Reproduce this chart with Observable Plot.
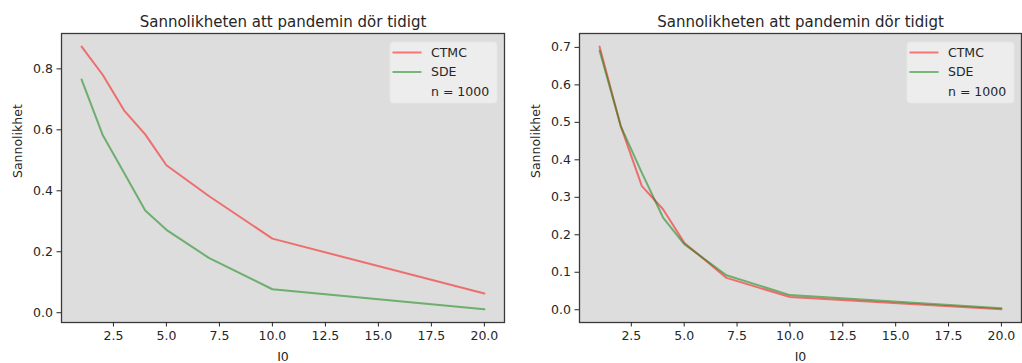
<!DOCTYPE html>
<html>
<head>
<meta charset="utf-8">
<script src="https://cdn.jsdelivr.net/npm/d3@7"></script>
<script src="https://cdn.jsdelivr.net/npm/@observablehq/plot@0.6"></script>
<style>
  body { margin: 0; background: #ffffff; }
  #row { display: flex; width: 1022px; height: 363px; }
  svg { font-family: "DejaVu Sans", sans-serif; }
</style>
</head>
<body>
<div id="row"></div>
<script>
// Initial number of infected, I0
const i0 = [1, 2, 3, 4, 5, 7, 10, 20];

// Probability that the epidemic dies out early, first run
const ctmcA = [0.873, 0.780, 0.664, 0.585, 0.484, 0.383, 0.243, 0.063];
const sdeA  = [0.765, 0.582, 0.459, 0.335, 0.272, 0.180, 0.077, 0.011];

// Second run
const ctmcB = [0.702, 0.490, 0.330, 0.268, 0.179, 0.085, 0.034, 0.001];
const sdeB  = [0.691, 0.490, 0.365, 0.246, 0.175, 0.092, 0.039, 0.004];

const xTicks = [2.5, 5, 7.5, 10, 12.5, 15, 17.5, 20];
const yTicksA = [0, 0.2, 0.4, 0.6, 0.8];
const yTicksB = [0, 0.1, 0.2, 0.3, 0.4, 0.5, 0.6, 0.7];

const title = "Sannolikheten att pandemin dör tidigt";
const xLabel = "I0";
const yLabel = "Sannolikhet";
const seriesNames = ["CTMC", "SDE"];
const note = "n = 1000";

const RED = "red", GREEN = "green";
const INK = "#262626";
const FS = 12.5;

// 5% padding on each side, like matplotlib's default autoscale margins
function padded(values) {
  const [lo, hi] = d3.extent(values);
  const m = (hi - lo) * 0.05;
  return [lo - m, hi + m];
}

function makeChart({ctmc, sde, yTicks, width, marginRight}) {
  const marginLeft = 61, marginTop = 33, marginBottom = 41, height = 363;
  const rows = (vals) => i0.map((x, i) => ({x, y: vals[i]}));
  const chart = Plot.plot({
    width, height, marginLeft, marginRight, marginTop, marginBottom,
    style: {fontFamily: "DejaVu Sans, sans-serif", color: INK, background: "white", overflow: "visible"},
    x: {domain: padded(i0)},
    y: {domain: padded([...ctmc, ...sde])},
    marks: [
      Plot.frame({fill: "#dddddd"}),
      Plot.line(rows(ctmc), {x: "x", y: "y", stroke: RED, strokeOpacity: 0.5, strokeWidth: 2}),
      Plot.line(rows(sde), {x: "x", y: "y", stroke: GREEN, strokeOpacity: 0.5, strokeWidth: 2}),
      Plot.frame({stroke: "#3a3a3a", strokeWidth: 1.3}),
      Plot.axisX(xTicks, {tickSize: 4.5, tickPadding: 4, tickFormat: d3.format(".1f"), label: null, stroke: INK, color: INK}),
      Plot.axisY(yTicks, {tickSize: 4.5, tickPadding: 4, tickFormat: d3.format(".1f"), label: null, stroke: INK, color: INK}),
      Plot.text([title], {frameAnchor: "top", dy: -7, lineAnchor: "bottom", fontSize: 15, fill: INK}),
      Plot.text([xLabel], {frameAnchor: "bottom", dy: 34, lineAnchor: "middle", fontSize: FS, fill: INK}),
      Plot.text([yLabel], {frameAnchor: "left", dx: -44, rotate: -90, lineAnchor: "middle", fontSize: FS, fill: INK})
    ]
  });

  const svg = d3.select(chart);
  // tick labels at the same size as the axis labels
  svg.selectAll('[aria-label="x-axis tick label"], [aria-label="y-axis tick label"]')
    .attr("font-size", FS).style("font-size", FS + "px");

  // Legend box in the upper right corner of the axes
  const bw = 107, bh = 61;
  const bx = width - marginRight - 7 - bw, by = marginTop + 9;
  const g = svg.append("g").attr("transform", `translate(${bx},${by})`)
    .attr("text-anchor", "start");
  g.append("rect").attr("width", bw).attr("height", bh).attr("rx", 3)
    .attr("fill", "#ededed").attr("stroke", "#e6e6e6");
  const entries = [
    {label: seriesNames[0], color: RED},
    {label: seriesNames[1], color: GREEN},
    {label: note, color: null}
  ];
  entries.forEach((e, i) => {
    const cy = 10.5 + i * 19.5;
    if (e.color) {
      g.append("line").attr("x1", 2.5).attr("x2", 31.5).attr("y1", cy).attr("y2", cy)
        .attr("stroke", e.color).attr("stroke-opacity", 0.5).attr("stroke-width", 2);
    }
    g.append("text").attr("x", 41).attr("y", cy).attr("dy", "0.35em")
      .attr("text-anchor", "start").attr("font-size", FS).attr("fill", INK).text(e.label);
  });
  return chart;
}

const row = document.getElementById("row");
row.append(makeChart({ctmc: ctmcA, sde: sdeA, yTicks: yTicksA, width: 518, marginRight: 14}));
row.append(makeChart({ctmc: ctmcB, sde: sdeB, yTicks: yTicksB, width: 504, marginRight: 1}));
</script>
</body>
</html>
